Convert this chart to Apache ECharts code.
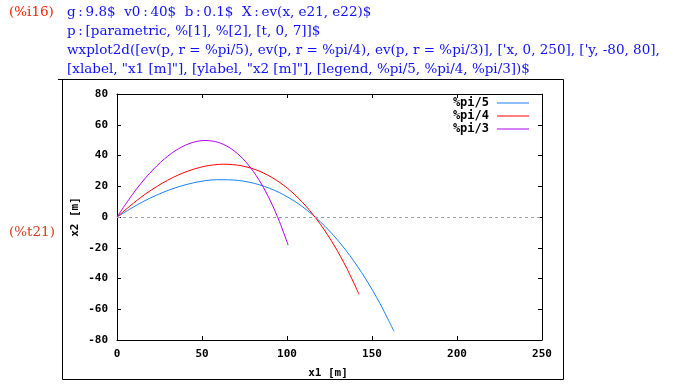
<!DOCTYPE html>
<html><head><meta charset="utf-8">
<script src="https://cdn.jsdelivr.net/npm/echarts@6/dist/echarts.min.js"></script>
<style>html,body{margin:0;padding:0;background:#fff}#c{width:673px;height:385px}</style>
</head><body><div id="c"></div>
<script>
// Data (x1, x2 pairs along each trajectory)
const legendNames = ['%pi/5', '%pi/4', '%pi/3'];
const xTicks = [0, 50, 100, 150, 200, 250];
const yTicks = [-80, -60, -40, -20, 0, 20, 40, 60, 80];

const piOver5X = [0, 15.78, 30.80, 45.08, 58.66, 71.58, 83.87, 95.57, 106.69, 117.27, 127.33, 136.90, 146.01, 154.67, 162.91];
const piOver5Y = [0, 10.26, 17.63, 22.26, 24.26, 23.78, 20.94, 15.84, 8.60, -0.68, -11.89, -24.95, -39.76, -56.23, -74.29];

const piOver4X = [0, 13.79, 26.92, 39.40, 51.27, 62.56, 73.31, 83.53, 93.25, 102.49, 111.29, 119.66, 127.62, 135.19, 142.39];
const piOver4Y = [0, 12.59, 22.18, 28.90, 32.91, 34.34, 33.31, 29.93, 24.33, 16.62, 6.89, -4.75, -18.22, -33.42, -50.27];

const piOver3X = [0, 9.75, 19.03, 27.86, 36.25, 44.24, 51.84, 59.06, 65.94, 72.47, 78.69, 84.61, 90.24, 95.59, 100.68];
const piOver3Y = [0, 15.69, 28.23, 37.76, 44.44, 48.40, 49.78, 48.71, 45.29, 39.65, 31.90, 22.14, 10.46, -3.04, -18.27];

const colors = ['#1a80f0', '#ff0000', '#b000f0'];

function pairs(xs, ys){ return xs.map((x,i)=>[x, ys[i]]); }

const mono = '"DejaVu Sans Mono", monospace';
const serif = '"DejaVu Serif", serif';
const C = '\u2009:\u2009';
const lines = [
  'g'+C+'9.8$  v0'+C+'40$  b'+C+'0.1$  X'+C+'ev(x, e21, e22)$',
  'p'+C+'[parametric, %[1], %[2], [t, 0, 7]]$',
  "wxplot2d([ev(p, r = %pi/5), ev(p, r = %pi/4), ev(p, r = %pi/3)], ['x, 0, 250], ['y, -80, 80],",
  '[xlabel, "x1 [m]"], [ylabel, "x2 [m]"], [legend, %pi/5, %pi/4, %pi/3])$'
];

const chart = echarts.init(document.getElementById('c'), null, {renderer:'canvas'});
const grid = {left:117, top:94, width:425, height:246, containLabel:false};

const axisCommon = {
  type:'value',
  axisLine:{show:true, onZero:false, lineStyle:{color:'#000', width:1}},
  axisTick:{show:true, inside:true, length:4, lineStyle:{color:'#000'}},
  splitLine:{show:false},
};

const graphics = [
  {type:'rect', shape:{x:62.5, y:79.5, width:501, height:300}, style:{fill:'none', stroke:'#000', lineWidth:1}},
  {type:'line', shape:{x1:58, y1:79.5, x2:563, y2:79.5}, style:{stroke:'#000', lineWidth:1}},
  {type:'text', x:9, y:12, style:{text:'(%i16)', font:'13.5px '+serif, fill:'#ff2000', textVerticalAlign:'middle'}},
  {type:'text', x:9, y:232, style:{text:'(%t21)', font:'13.5px '+serif, fill:'#d04020', textVerticalAlign:'middle'}},
  {type:'text', x:328, y:373, style:{text:'x1 [m]', font:'bold 11px '+mono, fill:'#000', textAlign:'center', textVerticalAlign:'middle'}},
  {type:'text', x:75, y:217, rotation:Math.PI/2, style:{text:'x2 [m]', font:'bold 11px '+mono, fill:'#000', textAlign:'center', textVerticalAlign:'middle'}},
];
lines.forEach((t,i)=>{
  graphics.push({type:'text', x:67, y:12+i*19, style:{text:t, font:'13.5px '+serif, fill:'#1010ff', textVerticalAlign:'middle'}});
});

chart.setOption({
  animation:false,
  backgroundColor:'#fff',
  color:colors,
  grid:grid,
  legend:{
    show:true, orient:'vertical', right:139, top:92, itemGap:1, itemWidth:32, itemHeight:10,
    align:'right', icon:'path://M0,4.5 L32,4.5 L32,5.5 L0,5.5 Z',
    textStyle:{fontFamily:mono, fontWeight:'bold', fontSize:12, color:'#000', padding:[0,3,0,0]},
    data:legendNames
  },
  xAxis:[
    Object.assign({}, axisCommon, {position:'bottom', min:xTicks[0], max:xTicks[xTicks.length-1], interval:50,
      axisLabel:{show:true, margin:9, fontFamily:mono, fontWeight:'bold', fontSize:11, color:'#000'}}),
    Object.assign({}, axisCommon, {position:'top', min:xTicks[0], max:xTicks[xTicks.length-1], interval:50,
      axisLabel:{show:false}})
  ],
  yAxis:[
    Object.assign({}, axisCommon, {position:'left', min:yTicks[0], max:yTicks[yTicks.length-1], interval:20,
      axisLabel:{show:true, margin:9, fontFamily:mono, fontWeight:'bold', fontSize:11, color:'#000'}}),
    Object.assign({}, axisCommon, {position:'right', min:yTicks[0], max:yTicks[yTicks.length-1], interval:20,
      axisLabel:{show:false}})
  ],
  series:[
    {name:legendNames[0], type:'line', data:pairs(piOver5X, piOver5Y), smooth:0.3, showSymbol:false, lineStyle:{width:1, color:colors[0]},
      markLine:{silent:true, symbol:'none', label:{show:false}, lineStyle:{color:'#a0a0a0', type:[3,3], width:1}, data:[{yAxis:0}]}},
    {name:legendNames[1], type:'line', data:pairs(piOver4X, piOver4Y), smooth:0.3, showSymbol:false, lineStyle:{width:1, color:colors[1]}},
    {name:legendNames[2], type:'line', data:pairs(piOver3X, piOver3Y), smooth:0.3, showSymbol:false, lineStyle:{width:1, color:colors[2]}},
  ],
  graphic:graphics
});
</script></body></html>
